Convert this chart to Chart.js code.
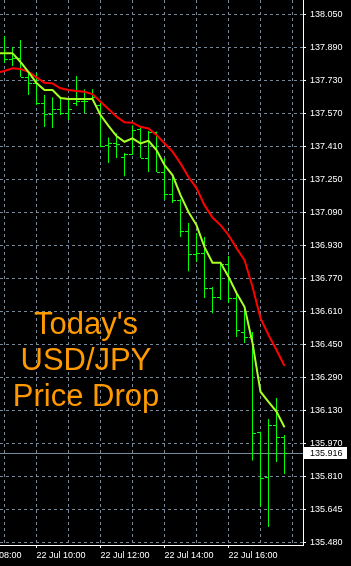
<!DOCTYPE html>
<html>
<head>
<meta charset="utf-8">
<script src="https://cdn.jsdelivr.net/npm/chart.js@4.4.0/dist/chart.umd.min.js"></script>
<style>
  html, body { margin: 0; padding: 0; background: #000; }
  #wrap { position: relative; width: 351px; height: 566px; overflow: hidden; }
  #chart { display: block; }
  #title {
    position: absolute; left: 0; top: 306px; width: 172px;
    text-align: center; color: #ff9900;
    font: 31px/36px "Liberation Sans", Arial, sans-serif;
    pointer-events: none;
  }
</style>
</head>
<body>
<div id="wrap">
  <canvas id="chart" width="351" height="566"></canvas>
  <div id="title">Today's<br>USD/JPY<br>Price Drop</div>
</div>
<script>
// M15 bars, 22 Jul (the 08:45 bar sits just off the left edge)
const times = ['08:45', '09:00', '09:15', '09:30', '09:45', '10:00', '10:15', '10:30', '10:45',
  '11:00', '11:15', '11:30', '11:45', '12:00', '12:15', '12:30', '12:45',
  '13:00', '13:15', '13:30', '13:45', '14:00', '14:15', '14:30', '14:45',
  '15:00', '15:15', '15:30', '15:45', '16:00', '16:15', '16:30', '16:45',
  '17:00', '17:15', '17:30', '17:45'];

const opens = [137.870, 137.860, 137.831, 137.835, 137.745, 137.715, 137.617, 137.564, 137.590,
  137.569, 137.617, 137.627, 137.640, 137.610, 137.413, 137.423, 137.356,
  137.370, 137.490, 137.350, 137.478, 137.284, 137.175, 137.145, 136.995,
  136.883, 136.888, 136.720, 136.676, 136.835, 136.669, 136.506, 136.480,
  136.019, 135.801, 136.052, 135.996];
const highs = [137.930, 137.943, 137.890, 137.924, 137.768, 137.763, 137.656, 137.646, 137.646,
  137.642, 137.749, 137.685, 137.685, 137.617, 137.450, 137.471, 137.374,
  137.510, 137.501, 137.481, 137.479, 137.350, 137.258, 137.150, 137.034,
  136.985, 136.966, 136.723, 136.844, 136.874, 136.694, 136.611, 136.504,
  136.019, 136.081, 136.183, 136.003];
const lows = [137.830, 137.812, 137.797, 137.744, 137.656, 137.608, 137.501, 137.496, 137.559,
  137.535, 137.603, 137.569, 137.632, 137.403, 137.326, 137.350, 137.262,
  137.365, 137.350, 137.282, 137.282, 137.146, 137.131, 136.966, 136.800,
  136.844, 136.669, 136.596, 136.660, 136.645, 136.480, 136.451, 135.879,
  135.655, 135.556, 135.872, 135.814];
const closes = [137.860, 137.831, 137.835, 137.745, 137.715, 137.617, 137.564, 137.590, 137.569,
  137.590, 137.627, 137.627, 137.645, 137.410, 137.423, 137.420, 137.370,
  137.486, 137.350, 137.478, 137.284, 137.174, 137.145, 136.995, 136.883,
  136.888, 136.720, 136.676, 136.835, 136.669, 136.514, 136.480, 136.013,
  135.796, 136.052, 135.996, 135.916];

const maFast = [137.860, 137.860, 137.860, 137.817, 137.768, 137.715, 137.681, 137.681, 137.642,
  137.637, 137.637, 137.637, 137.637, 137.559, 137.506, 137.457, 137.429,
  137.446, 137.421, 137.434, 137.389, 137.316, 137.267, 137.170, 137.088,
  137.024, 136.917, 136.841, 136.841, 136.773, 136.694, 136.627, 136.451,
  136.214, 136.165, 136.117, 136.041];
const maSlow = [137.765, 137.773, 137.786, 137.783, 137.769, 137.742, 137.716, 137.713, 137.689,
  137.681, 137.676, 137.672, 137.661, 137.624, 137.588, 137.551, 137.524,
  137.522, 137.502, 137.494, 137.462, 137.422, 137.381, 137.324, 137.258,
  137.204, 137.121, 137.061, 137.024, 136.976, 136.912, 136.854, 136.724,
  136.572, 136.490, 136.417, 136.339];

const priceTicks = ['138.050', '137.890', '137.730', '137.570', '137.410', '137.250', '137.090',
  '136.930', '136.770', '136.610', '136.450', '136.290', '136.130', '135.970', '135.810',
  '135.645', '135.480'];
const hourTicks = ['08:00', '09:00', '10:00', '11:00', '12:00', '13:00', '14:00', '15:00',
  '16:00', '17:00', '18:00'];
const timeLabels = ['22 Jul 08:00', '22 Jul 10:00', '22 Jul 12:00', '22 Jul 14:00', '22 Jul 16:00'];
const lastPrice = 135.916;

const toMin = t => { const p = t.split(':').map(Number); return p[0] * 60 + p[1]; };
const barIndex = t => (toMin(t) - toMin(times[0])) / 15;

const tickFont = { family: 'Liberation Sans', size: 9 };
const gridColor = '#778899';

// open / close ticks + last price line, below the datasets
const ohlcPlugin = {
  id: 'ohlcTicks',
  beforeDatasetsDraw(chart) {
    const { ctx, chartArea: a, scales: { x, y } } = chart;
    ctx.save();
    ctx.beginPath();
    ctx.rect(a.left, a.top, a.right - a.left, a.bottom - a.top);
    ctx.clip();
    const py = Math.round(y.getPixelForValue(lastPrice)) + 0.5;
    ctx.strokeStyle = gridColor;
    ctx.lineWidth = 1;
    ctx.beginPath();
    ctx.moveTo(a.left, py);
    ctx.lineTo(a.right, py);
    ctx.stroke();
    ctx.fillStyle = '#00ff00';
    times.forEach((t, i) => {
      const px = Math.round(x.getPixelForValue(i) - 0.5);
      ctx.fillRect(px - 3, Math.round(y.getPixelForValue(opens[i])), 3, 1);
      ctx.fillRect(px + 1, Math.round(y.getPixelForValue(closes[i])), 3, 1);
    });
    ctx.restore();
  },
  afterDraw(chart) {
    const { ctx, chartArea: a, scales: { y } } = chart;
    const py = Math.round(y.getPixelForValue(lastPrice));
    ctx.save();
    ctx.fillStyle = '#fff';
    ctx.fillRect(a.right + 1, py - 6, 43, 12);
    ctx.fillStyle = '#000';
    ctx.font = '9px "Liberation Sans"';
    ctx.textBaseline = 'middle';
    ctx.fillText(lastPrice.toFixed(3), a.right + 7, py + 0.5);
    ctx.restore();
  }
};

new Chart(document.getElementById('chart'), {
  data: {
    datasets: [
      {
        type: 'line',
        data: maFast.map((v, i) => ({ x: i, y: v })),
        borderColor: '#a8ff24',
        borderWidth: 2,
        pointRadius: 0,
        tension: 0,
        clip: 0
      },
      {
        type: 'line',
        data: maSlow.map((v, i) => ({ x: i, y: v })),
        borderColor: '#ff0000',
        borderWidth: 2,
        pointRadius: 0,
        tension: 0,
        clip: 0
      },
      {
        type: 'bar',
        data: times.map((t, i) => ({ x: i, y: [lows[i], highs[i]] })),
        backgroundColor: '#00ff00',
        borderWidth: 0,
        barThickness: 1,
        inflateAmount: 0,
        grouped: false,
        clip: 0
      }
    ]
  },
  options: {
    responsive: false,
    animation: false,
    devicePixelRatio: 1,
    events: [],
    layout: { padding: 0, autoPadding: false },
    plugins: { legend: { display: false }, tooltip: { enabled: false } },
    scales: {
      x: {
        type: 'linear',
        offset: false,
        min: 0.4375,
        max: 38.3125,
        afterBuildTicks: s => { s.ticks = hourTicks.map(t => ({ value: barIndex(t) })); },
        afterFit: s => { s.height = 21; s.paddingLeft = 0; s.paddingRight = 0; },
        ticks: {
          autoSkip: false,
          maxRotation: 0,
          align: 'start',
          padding: 2,
          color: '#fff',
          font: tickFont,
          callback: (v, i) => timeLabels.find(l => l.endsWith(' ' + hourTicks[i])) || ''
        },
        grid: {
          offset: false,
          color: gridColor,
          tickLength: 3,
          tickColor: c => (c.tick && c.tick.label) ? '#fff' : 'rgba(0,0,0,0)'
        },
        border: { color: '#fff', width: 1, dash: [3, 3] }
      },
      y: {
        type: 'linear',
        position: 'right',
        min: 135.4688,
        max: 138.1183,
        afterBuildTicks: s => {
          const a = parseFloat(priceTicks[0]);
          const b = parseFloat(priceTicks[priceTicks.length - 1]);
          s.ticks = priceTicks.map((p, k) => ({ value: a + (b - a) * k / (priceTicks.length - 1) }));
        },
        afterFit: s => { s.width = 48; s.paddingTop = 0; s.paddingBottom = 0; },
        ticks: {
          padding: 4,
          color: '#fff',
          font: tickFont,
          callback: (v, i) => priceTicks[i]
        },
        grid: { color: gridColor, tickLength: 3, tickColor: '#fff' },
        border: { color: '#fff', width: 1, dash: [3, 3] }
      }
    }
  },
  plugins: [ohlcPlugin]
});
</script>
</body>
</html>
